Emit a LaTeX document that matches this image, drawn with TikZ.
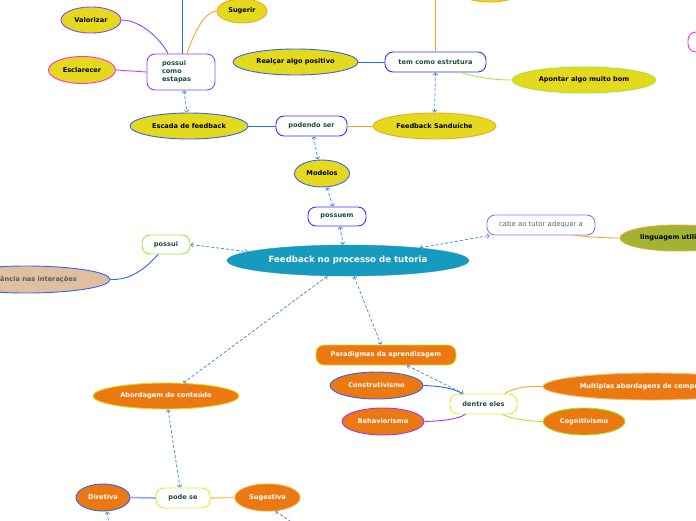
\documentclass[tikz,border=0pt]{standalone}
\usepackage{fontspec}
\setmainfont{DejaVu Sans}
\usetikzlibrary{shapes.geometric,arrows.meta}
\definecolor{yel}{HTML}{E4D91C}
\definecolor{org}{HTML}{EC7811}
\definecolor{teal}{HTML}{169BBF}
\definecolor{olive}{HTML}{A2B232}
\definecolor{tan}{HTML}{DFBF9F}
\definecolor{bblue}{HTML}{3366EE}
\definecolor{dblue}{HTML}{3333FF}
\definecolor{purp}{HTML}{8844FF}
\definecolor{vio}{HTML}{AA33EE}
\definecolor{mag}{HTML}{FF33CC}
\definecolor{borg}{HTML}{F5A623}
\definecolor{lime}{HTML}{99EE33}
\definecolor{ylime}{HTML}{DDEE33}
\definecolor{arrblue}{HTML}{4A90E2}
\definecolor{txt}{HTML}{1D4D40}
\definecolor{lblue}{HTML}{88AAFF}
\definecolor{lorg}{HTML}{FFCC88}
\tikzset{
  base/.style={font=\fontsize{6.6}{8}\selectfont\bfseries, inner sep=0pt},
  ell/.style={ellipse, draw, line width=0.9pt, base, text=black},
  yell/.style={ell, fill=yel},
  oell/.style={ell, fill=org, text=white},
  rbox/.style={rectangle, rounded corners=8pt, draw, fill=white, line width=0.9pt, base, text=txt, minimum height=20pt},
  dlink/.style={draw=arrblue, dash pattern=on 3pt off 2pt, line width=0.8pt, {Straight Barb[length=2pt,width=4.5pt]}-{Straight Barb[length=2pt,width=4.5pt]}},
  conn/.style={line width=0.9pt},
}
\begin{document}
\begin{tikzpicture}[x=1pt,y=-1pt]
\useasboundingbox (0,0) rectangle (696,520);
% top area
\node[yell, draw=borg, minimum width=70, minimum height=28] (topell) at (490,-12) {};
\node[rbox, draw=mag, minimum width=62] (magbox) at (719,42) {};
\node[yell, draw=purp, minimum width=60, minimum height=26] (val) at (91,20) {Valorizar};
\node[yell, draw=borg, minimum width=50, minimum height=24] (sug) at (242,11) {Sugerir};
\node[yell, draw=mag, minimum width=67, minimum height=27] (escl) at (82,70) {Esclarecer};
\node[rbox, draw=purp, minimum width=68, minimum height=36, text width=38pt, align=left] (stp) at (181,72) {possui\\como\\estapas};
\node[yell, draw=bblue, minimum width=118, minimum height=26] (esc) at (189,126) {Escada de feedback};
\node[rbox, draw=dblue, minimum width=71] (pod) at (311.5,126) {podendo ser};
\node[yell, draw=borg, minimum width=123, minimum height=26] (sand) at (434.5,126) {Feedback Sanduíche};
\node[yell, draw=bblue, minimum width=125, minimum height=26] (real) at (295.5,62) {Realçar algo positivo};
\node[rbox, draw=dblue, minimum width=101] (tem) at (435.5,62) {tem como estrutura};
\node[yell, draw=lime, minimum width=144, minimum height=26] (apo) at (584,80) {Apontar algo muito bom};
\node[yell, draw=bblue, minimum width=55, minimum height=27] (mod) at (322,173.5) {Modelos};
\node[rbox, draw=dblue, minimum width=58, minimum height=19] (psm) at (337,216.5) {possuem};
% center
\node[ellipse, fill=teal, draw=teal, minimum width=242, minimum height=31, inner sep=0pt, text=white, font=\fontsize{8.6}{10}\selectfont\bfseries] (fb) at (348,260.5) {Feedback no processo de tutoria};
\node[rbox, draw=lime, minimum width=48, minimum height=19] (pos) at (166,244.5) {possui};
\node[ell, fill=tan, draw=bblue, text=black!65, minimum width=168, minimum height=27] (imp) at (26,279.5) {Importância nas interações};
\node[rbox, draw=purp!80, minimum width=108, font=\fontsize{6.9}{8}\selectfont, text=txt!80] (cabe) at (541,225) {cabe ao tutor adequar a};
\node[ell, fill=olive, draw=borg, minimum width=114, minimum height=26] (ling) at (677,238) {linguagem utilizada};
% lower right
\node[rbox, fill=org, draw=yel, text=white, minimum width=140] (para) at (386,355) {Paradigmas da aprendizagem};
\node[oell, draw=bblue, minimum width=93, minimum height=27] (cons) at (376.5,385.5) {Construtivismo};
\node[oell, draw=vio, minimum width=82, minimum height=27] (beh) at (383,421.5) {Behaviorismo};
\node[rbox, draw=ylime, minimum width=67] (den) at (483.5,404) {dentre eles};
\node[oell, draw=borg!70, minimum width=218, minimum height=27] (mult) at (652,386.5) {Multiplas abordagens de compreensão};
\node[oell, draw=lime, minimum width=82, minimum height=27] (cog) at (584,421.5) {Cognitivismo};
% lower left
\node[oell, draw=yel, minimum width=146, minimum height=26] (abd) at (166,396) {Abordagem do conteúdo};
\node[rbox, draw=ylime, minimum width=54] (pode) at (183,498) {pode se};
\node[oell, draw=bblue, minimum width=54, minimum height=27] (dir) at (103,497.5) {Diretiva};
\node[oell, draw=borg, minimum width=65, minimum height=27] (sgv) at (267.5,497.5) {Sugestiva};
% free ends
\coordinate (topblue) at (182,-3);
\coordinate (toporg) at (435.5,-3);
\coordinate (dirout) at (110,532);
\coordinate (sgvout) at (306,532);
% solid connectors
\draw[conn, draw=purp] ([xshift=-13pt]stp.north) .. controls (160,38) and (140,20) .. (val.east);
\draw[conn, draw=borg] ([xshift=6pt]stp.north) .. controls (195,30) and (205,12) .. (sug.west);
\draw[conn, draw=bblue] ([xshift=1pt]stp.north) -- (topblue);
\draw[conn, draw=mag] (stp.west) -- (escl.east);
\draw[conn, draw=bblue] (esc.east) -- (pod.west);
\draw[conn, draw=borg] (pod.east) -- (sand.west);
\draw[conn, draw=bblue] (tem.west) -- (real.east);
\draw[conn, draw=borg] (tem.north) -- (toporg);
\draw[conn, draw=lime] ([xshift=25pt]tem.south) .. controls (480,78) and (495,80) .. (apo.west);
\draw[conn, draw=bblue] ([xshift=-8pt]pos.south) .. controls (140,275) and (125,280) .. (imp.east);
\draw[conn, draw=borg] ([xshift=34pt]cabe.south) .. controls (590,237) and (605,238) .. (ling.west);
\draw[conn, draw=bblue] ([xshift=-21pt]den.north) .. controls (452,388) and (440,386) .. (cons.east);
\draw[conn, draw=vio] ([xshift=-18pt]den.south) .. controls (455,420) and (440,421) .. (beh.east);
\draw[conn, draw=borg] ([xshift=21pt]den.north) .. controls (515,387) and (530,386) .. (mult.west);
\draw[conn, draw=lime] ([xshift=19pt]den.south) .. controls (515,420) and (530,421) .. (cog.west);
\draw[line width=1.6pt, draw=lblue] (dir.east) -- (pode.west);
\draw[line width=1.6pt, draw=lorg] (pode.east) -- (sgv.west);
% dashed links
\draw[dlink] ([xshift=3pt]stp.south) -- ([xshift=-2pt]esc.north);
\draw[dlink] (tem.south) -- (sand.north);
\draw[dlink] ([xshift=2pt]pod.south) -- ([xshift=-4pt]mod.north);
\draw[dlink] ([xshift=5pt]mod.south) -- ([xshift=-4pt]psm.north);
\draw[dlink] ([xshift=3pt]psm.south) -- ([xshift=-5pt]fb.north);
\draw[dlink] (pos.east) -- (fb.175);
\draw[dlink] (fb.10) -- ([xshift=3pt]cabe.south west);
\draw[dlink] (fb.217) -- (abd.37);
\draw[dlink] (fb.291) -- ([xshift=-5pt]para.north);
\draw[dlink] ([xshift=21pt]para.south) -- ([xshift=-20pt]den.north);
\draw[dlink] ([xshift=2pt]abd.south) -- ([xshift=-3pt]pode.north);
\draw[dlink] ([xshift=4pt]dir.south) -- (dirout);
\draw[dlink] (sgv.300) -- (sgvout);
\end{tikzpicture}
\end{document}
